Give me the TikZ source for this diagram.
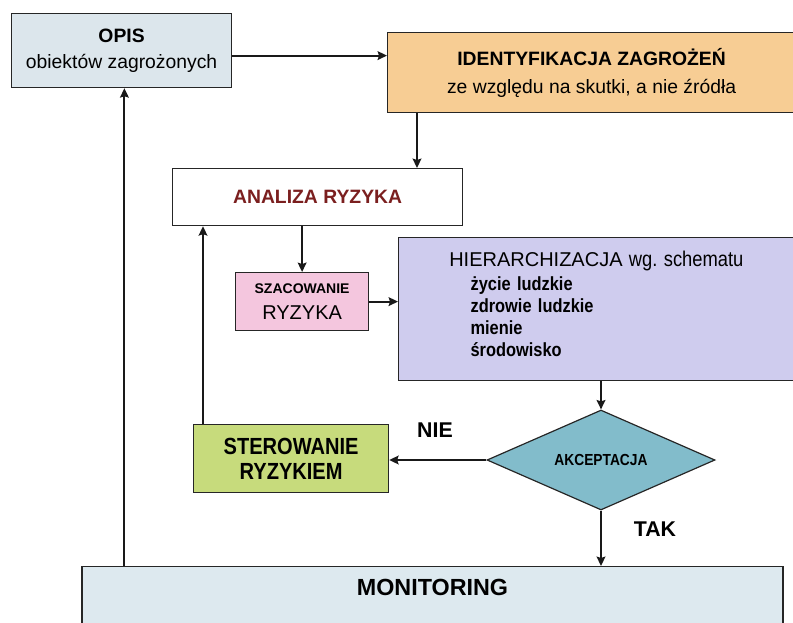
\documentclass[tikz,border=0pt]{standalone}
\usepackage{fontspec}
\setmainfont{Liberation Sans}
\newfontfamily\narrowsf[FakeStretch=0.86]{Liberation Sans}
\usetikzlibrary{positioning,arrows.meta,shapes.geometric}
\definecolor{opisblue}{HTML}{DCE6EC}
\definecolor{identtan}{HTML}{F7CD94}
\definecolor{szacpink}{HTML}{F4C6DE}
\definecolor{hierviolet}{HTML}{CFCCEE}
\definecolor{akcteal}{HTML}{82BCCB}
\definecolor{stergreen}{HTML}{C7DB7C}
\definecolor{monblue}{HTML}{DDE9EF}
\definecolor{analizared}{HTML}{7B1F1F}

\begin{document}
\begin{tikzpicture}[x=0.75pt,y=-0.75pt,
    box/.style={draw=black!85, line width=0.9pt, anchor=north west, inner sep=0pt, align=center},
    arr/.style={-{Stealth[length=7pt,width=6.5pt,inset=1pt]}, line width=1.6pt, black!90},
    lbl/.style={font=\bfseries\fontsize{16}{18}\selectfont},
    ]
\useasboundingbox (0,0) rectangle (793,622);

\node[box, fill=opisblue, minimum width=165pt, minimum height=55.5pt,
    font=\fontsize{14.5}{20}\selectfont] (opis) at (11,13)
    {{\bfseries OPIS}\\ obiektów zagrożonych};
\node[box, fill=identtan, minimum width=306pt, minimum height=60pt,
    font=\fontsize{14.5}{21}\selectfont] (ident) at (387,32)
    {{\bfseries IDENTYFIKACJA ZAGROŻEŃ}\\ ze względu na skutki, a nie źródła};
\node[box, fill=white, minimum width=217.5pt, minimum height=42.75pt,
    font=\bfseries\fontsize{14.5}{18}\selectfont, text=analizared] (analiza) at (172,168)
    {ANALIZA RYZYKA};
\node[box, fill=szacpink, minimum width=99.75pt, minimum height=43.5pt,
    font=\fontsize{15}{19}\selectfont] (szac) at (235,272)
    {{\bfseries\fontsize{10.5}{14}\selectfont SZACOWANIE}\\ RYZYKA};
\node[box, fill=hierviolet, minimum width=315pt, minimum height=107.25pt,
    text width=239pt, align=left, font=\fontsize{14.3}{16.5}\selectfont] (hier) at (398,237)
    {{\fontsize{15}{17}\selectfont HIERARCHIZACJA} {\narrowsf\fontsize{16}{17}\selectfont wg.~schematu}\\[1pt]
     \hspace*{16pt}{\narrowsf\bfseries życie ludzkie}\\
     \hspace*{16pt}{\narrowsf\bfseries zdrowie ludzkie}\\
     \hspace*{16pt}{\narrowsf\bfseries mienie}\\
     \hspace*{16pt}{\narrowsf\bfseries środowisko}\rule[-8pt]{0pt}{0pt}};
\node[draw=black!85, line width=0.9pt, diamond, aspect=2.28, fill=akcteal,
    minimum width=171pt, minimum height=75pt, inner sep=0pt,
    font=\narrowsf\bfseries\fontsize{12}{14}\selectfont] (akc) at (601,460) {AKCEPTACJA};
\node[box, fill=stergreen, minimum width=146.25pt, minimum height=51pt,
    font=\narrowsf\bfseries\fontsize{17.5}{19}\selectfont] (ster) at (193,424)
    {STEROWANIE\\ RYZYKIEM};
\node[box, anchor=north, fill=monblue, minimum width=525.75pt, inner ysep=9.5pt,
    font=\bfseries\fontsize{17.5}{18}\selectfont] (monit) at (432.5,566)
    {MONITORING\rule[-40pt]{0pt}{0pt}};

\node[lbl] (nie) at (435,430) {NIE};
\node[lbl] (tak) at (655,529) {TAK};

\coordinate (oe) at ([yshift=-3.75pt]opis.east);
\draw[arr] (oe) -- (oe -| ident.west);
\coordinate (ia) at ([xshift=22.5pt]ident.south west);
\draw[arr] (ia) -- (ia |- analiza.north);
\draw[arr] (analiza.south -| szac.north) -- (szac.north);
\draw[arr] (szac.east) -- (szac.east -| hier.west);
\draw[arr] (akc.north |- hier.south) -- (akc.north);
\draw[arr] (akc.west) -- (akc.west -| ster.east);
\coordinate (sa) at ([xshift=7.5pt]ster.north west);
\draw[arr] (sa) -- (sa |- analiza.south);
\draw[arr] (akc.south) -- (akc.south |- monit.north);
\coordinate (mo) at ([xshift=32.25pt]monit.north west);
\draw[arr] (mo) -- (mo |- opis.south);

\end{tikzpicture}
\end{document}
